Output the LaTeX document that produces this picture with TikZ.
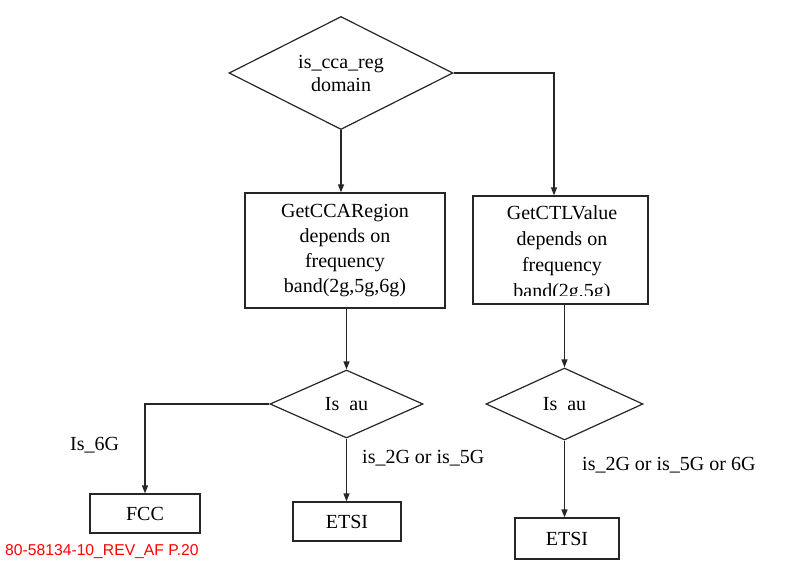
\documentclass[tikz,border=0pt]{standalone}
\usepackage{fontspec}
\setmainfont{LiberationSerif}[Extension=.ttf,UprightFont=*-Regular,BoldFont=*-Bold,ItalicFont=*-Italic,BoldItalicFont=*-BoldItalic]
\newfontfamily\redfont{Liberation Sans}
\usetikzlibrary{shapes.geometric,arrows.meta}
\begin{document}
\begin{tikzpicture}[x=1pt,y=-1pt,
  line/.style={line width=1.2pt,draw=black!85},
  arr/.style={line,-{Triangle[length=8pt,width=6pt]}},
  dec/.style={diamond,aspect=2,line,inner sep=0pt,align=center,font=\fontsize{20}{23}\selectfont},
  box/.style={rectangle,line,inner sep=0pt,align=center,font=\fontsize{20}{25}\selectfont},
  lbl/.style={inner sep=0pt,anchor=base west,font=\fontsize{20}{24}\selectfont}]
\useasboundingbox[fill=white] (0,0) rectangle (785,566);

% top decision
\node[dec,minimum width=224,minimum height=113] (d1) at (341,73) {is\_cca\_reg\\domain};

% process boxes
\node[box,minimum width=200,minimum height=115] (lbox) at (345,250.5)
  {GetCCARegion\\depends on\\frequency\\band(2g,5g,6g)};
\node[box,minimum width=175,minimum height=108] (rbox) at (560.5,250) {};
\begin{scope}
  \clip ([xshift=1pt,yshift=-1pt]rbox.north west) rectangle ([xshift=-1pt,yshift=9pt]rbox.south east);
  \node[inner sep=0pt,align=center,font=\fontsize{20}{26}\selectfont] (rtext) at (562,254)
    {GetCTLValue\\depends on\\frequency\\band(2g,5g)};
\end{scope}

% second decisions
\node[dec,minimum width=153,minimum height=68] (d2) at (346.5,404) {Is\ \ au};
\node[dec,minimum width=157,minimum height=72] (d3) at (564.5,404) {Is\ \ au};

% result boxes
\node[box,minimum width=110,minimum height=39] (fcc) at (145,513.5) {FCC};
\node[box,minimum width=108,minimum height=39] (e1) at (347,521.5) {ETSI};
\node[box,minimum width=104,minimum height=41] (e2) at (567,538.5) {ETSI};

% labels
\node[lbl] (l1) at (70,450) {Is\_6G};
\node[lbl] (l2) at (362,463) {is\_2G or is\_5G};
\node[lbl] (l3) at (582,470) {is\_2G or is\_5G or 6G};

% document reference
\node[inner sep=0pt,anchor=base west,text=red,font=\redfont\fontsize{15.7}{18}\selectfont] (ref) at (5,555) {80-58134-10\_REV\_AF P.20};

% connectors
\coordinate (c1) at (554,73);
\coordinate (c2) at (fcc.north |- d2.west);
\draw[arr] (d1.south) -- (d1.south |- lbox.north);
\draw[arr] (d1.east) -- (c1) -- (c1 |- rbox.north);
\draw[arr] (d2.north |- lbox.south) -- (d2.north);
\draw[arr] (d3.north |- rbox.south) -- (d3.north);
\draw[arr] (d2.west) -- (c2) -- (fcc.north);
\draw[arr] (d2.south) -- (d2.south |- e1.north);
\draw[arr] (d3.south) -- (d3.south |- e2.north);
\end{tikzpicture}
\end{document}
